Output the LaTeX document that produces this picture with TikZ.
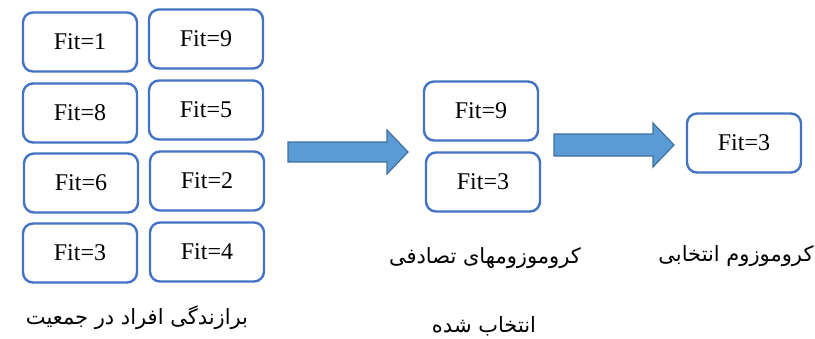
\documentclass[tikz,border=0pt]{standalone}
\usepackage{fontspec}
\setmainfont{Liberation Serif}
\newfontfamily\persianfont[Script=Arabic]{DejaVu Sans}
\TeXXeTstate=1
\definecolor{boxblue}{HTML}{4472C4}
\definecolor{arrowfill}{HTML}{5B9BD5}
\definecolor{arrowline}{HTML}{41719C}
\tikzset{
  fitbox/.style={draw=boxblue,line width=2.4pt,rounded corners=10pt,fill=white,
    minimum width=114pt,minimum height=59pt,inner sep=0pt,
    font=\fontsize{24}{27}\selectfont},
  bigarrow/.style={fill=arrowfill,draw=arrowline,line width=1.2pt},
  caption/.style={inner sep=0pt,font=\persianfont\fontsize{21}{25}\selectfont}
}
\begin{document}
\begin{tikzpicture}
        [x=1pt,y=-1pt]
        \useasboundingbox (0,0) rectangle (815,338);

        % population
        \node[fitbox] (p1) at (80,42) {Fit=1};
        \node[fitbox] (p2) at (206,39) {Fit=9};
        \node[fitbox] (p3) at (80,113) {Fit=8};
        \node[fitbox] (p4) at (206,110) {Fit=5};
        \node[fitbox] (p5) at (81,183) {Fit=6};
        \node[fitbox] (p6) at (207,181) {Fit=2};
        \node[fitbox] (p7) at (80,253) {Fit=3};
        \node[fitbox] (p8) at (207,252) {Fit=4};
        \node[caption] (pop) at (137,318) {\beginR برازندگی افراد در جمعیت\endR};

        % random selection
        \draw[bigarrow] (288,142) -- (387,142) -- (387,130) -- (408,152)
          -- (387,174) -- (387,162) -- (288,162) -- cycle;
        \node[fitbox] (s1) at (481,111) {Fit=9};
        \node[fitbox] (s2) at (483,182) {Fit=3};
        \node[caption] (sel1) at (485,258) {\beginR کروموزومهای تصادفی\endR};
        \node[caption] (sel2) at (484,326) {\beginR انتخاب شده\endR};

        % chosen
        \draw[bigarrow] (554,134) -- (653,134) -- (653,123) -- (674,145)
          -- (653,167) -- (653,156) -- (554,156) -- cycle;
        \node[fitbox] (best) at (744,143) {Fit=3};
        \node[caption] (chosen) at (736,256) {\beginR کروموزوم انتخابی\endR};
      \end{tikzpicture}
\end{document}
